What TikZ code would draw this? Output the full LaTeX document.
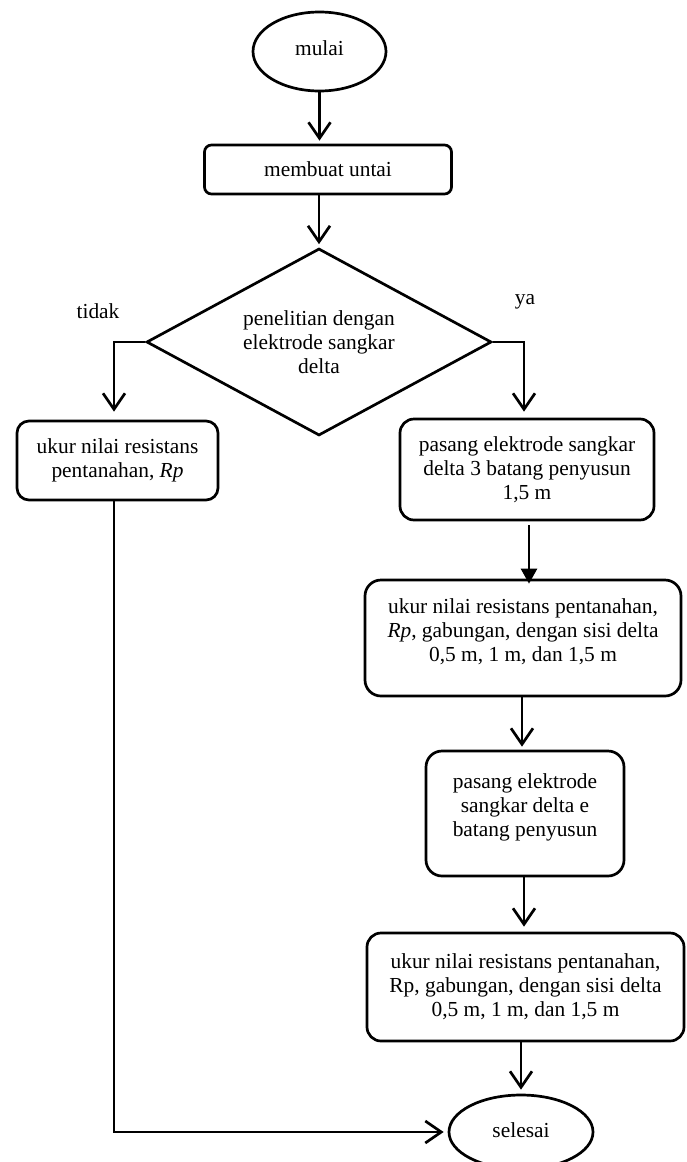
\documentclass[tikz,border=0pt]{standalone}
\usepackage{fontspec}
\setmainfont{Liberation Serif}
\usetikzlibrary{shapes.geometric,arrows.meta}
\newcommand\raisedtext[2]{\raisebox{#1}[\height][\depth]{\begin{tabular}{@{}c@{}}#2\end{tabular}}}
\begin{document}
\begin{tikzpicture}[x=1pt,y=-1pt,
  every node/.style={font=\fontsize{21.4}{24}\selectfont},
  base/.style={draw, line width=2.7pt, align=center, inner sep=0pt},
  term/.style={base, ellipse},
  proc/.style={base, rectangle, rounded corners=#1},
  proc/.default=12pt,
  decision/.style={base, diamond, shape aspect=1.845},
  conn/.style={line width=2.7pt, -{Straight Barb[length=16pt,width=22pt]}},
  fconn/.style={line width=2.7pt, -{Triangle[length=15pt,width=16pt]}},
  lbl/.style={inner sep=0pt}
]
\useasboundingbox (0,0) rectangle (687,1162);

\node[term, minimum width=133pt, minimum height=79pt] (mulai) at (319.5,51.5) {\raisebox{6pt}{mulai}};
\node[proc=7pt, minimum width=247pt, minimum height=49pt] (membuat) at (328,169.5) {membuat untai};
\node[decision, minimum width=345pt, minimum height=187pt] (dia) at (319,342)
  {penelitian dengan\\elektrode sangkar\\delta};
\node[lbl] (tidak) at (98,311) {tidak};
\node[lbl] (ya) at (525,302) {ya};

\node[proc, minimum width=201pt, minimum height=79pt] (left) at (117.5,460.5)
  {ukur nilai resistans\\pentanahan, \textit{Rp}};
\node[proc=14pt, minimum width=254pt, minimum height=101pt] (r1) at (527,469.5)
  {pasang elektrode sangkar\\delta 3 batang penyusun\\1,5 m};
\node[proc=16pt, minimum width=316pt, minimum height=116pt] (r3) at (523,638)
  {\raisedtext{5pt}{ukur nilai resistans pentanahan,\\\textit{Rp}, gabungan, dengan sisi delta\\0,5 m, 1 m, dan 1,5 m}};
\node[proc=16pt, minimum width=198pt, minimum height=125pt] (r4) at (525,813.5)
  {\raisedtext{6pt}{pasang elektrode\\sangkar delta e\\batang penyusun}};
\node[proc=14pt, minimum width=317pt, minimum height=108pt] (r5) at (525.5,987)
  {ukur nilai resistans pentanahan,\\Rp, gabungan, dengan sisi delta\\0,5 m, 1 m, dan 1,5 m};
\node[term, minimum width=144pt, minimum height=74pt] (sel) at (521,1132) {\raisebox{3pt}{selesai}};

\coordinate (lc) at (114,342);
\coordinate (rc) at (524,342);
\coordinate (fa) at (529,0);
\coordinate (a34) at (522,0);
\coordinate (a45) at (524,0);
\coordinate (a5s) at (521,0);
\coordinate (lb) at (114,1132);

\draw[conn, shorten >=3pt] (mulai.south) -- (mulai.south |- membuat.north);
\draw[conn, shorten >=3pt] (dia.north |- membuat.south) -- (dia.north);
\draw[conn, shorten >=8pt] (dia.west) -- (lc) -- (lc |- left.north);
\draw[conn, shorten >=6pt] (dia.east) -- (rc) -- (rc |- r1.north);
\draw[fconn, shorten <=4pt, shorten >=-5pt] (fa |- r1.south) -- (fa |- r3.north);
\draw[conn, shorten >=3pt] (a34 |- r3.south) -- (a34 |- r4.north);
\draw[conn, shorten >=5pt] (a45 |- r4.south) -- (a45 |- r5.north);
\draw[conn, shorten >=4pt] (a5s |- r5.south) -- (a5s |- sel.north);
\draw[conn, shorten >=4pt] (lc |- left.south) -- (lb) -- (lb -| sel.west);
\end{tikzpicture}
\end{document}
